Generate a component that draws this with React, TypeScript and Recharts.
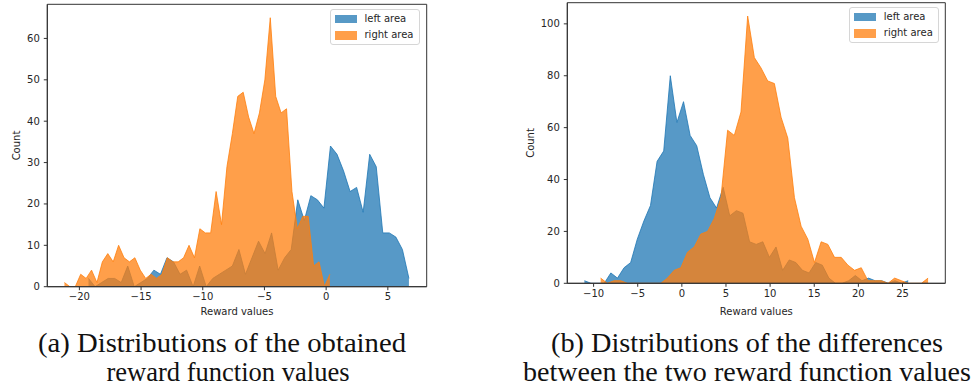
import {AreaChart, Area, XAxis, YAxis, ReferenceArea} from "recharts";

// histogram counts, one value per bin
const leftBlueCounts = [
  2, 0, 1, 2, 2, 1, 5, 0, 1, 2, 4, 3, 7, 6, 3, 4, 0, 5, 0, 2, 3, 4, 5, 9, 3,
  7, 11, 8, 13, 4, 7, 9, 21, 16, 22, 21, 19, 34, 32, 28, 23, 24, 18, 32, 29, 13, 13, 12, 9, 2,
];
const leftOrangeCounts = [
  1, 0, 0, 3, 2, 4, 1, 6, 8, 6, 10, 7, 6, 7, 4, 2, 3, 2, 3, 7, 6, 6, 7, 10, 7,
  14, 13, 13, 23, 15, 29, 37, 46, 47, 41, 37, 42, 50, 65, 46, 42, 43, 23, 14, 17, 17, 5, 6, 0, 3,
];
const rightBlueCounts = [
  1, 0, 0, 0, 4, 2, 6, 8, 17, 24, 30, 47, 51, 80, 62, 70, 57, 53, 42, 33, 29, 37, 26, 28, 27,
  16, 15, 16, 10, 14, 5, 9, 8, 5, 4, 8, 7, 2, 0, 0, 1, 3, 1, 2, 1, 1, 0, 1, 0, 1,
];
const rightOrangeCounts = [
  2, 0, 1, 1, 0, 0, 0, 0, 0, 0, 2, 5, 6, 12, 14, 19, 20, 25, 33, 59, 57, 66, 103, 87, 83,
  78, 77, 64, 56, 33, 22, 17, 8, 16, 15, 10, 10, 7, 5, 6, 1, 1, 1, 0, 2, 1, 0, 0, 0, 2,
];

// first bin centre and bin width of each histogram (50 bins each)
const leftBlueBins = [-19.26, 0.53];
const leftOrangeBins = [-21.21, 0.439];
const rightBlueBins = [-11.04, 0.7486];
const rightOrangeBins = [-9.2, 0.7571];

const leftXTicks = [-20, -15, -10, -5, 0, 5];
const leftYTicks = [0, 10, 20, 30, 40, 50, 60];
const rightXTicks = [-10, -5, 0, 5, 10, 15, 20, 25];
const rightYTicks = [0, 20, 40, 60, 80, 100];

const seriesNames = ["left area", "right area"];
const BLUE = "#1f77b4";
const ORANGE = "#ff7f0e";
const INK = "#262626";

const toBins = (counts: number[], bins: number[]) =>
  counts.map((c, i) => ({x: +(bins[0] + i * bins[1]).toFixed(4), count: c}));

const fmt = (v: number) => String(v).replace("-", "\u2212");

type PanelProps = {
  left: number;
  width: number;
  margin: {top: number; right: number; bottom: number; left: number};
  blue: {x: number; count: number}[];
  orange: {x: number; count: number}[];
  xDomain: [number, number];
  yMax: number;
  xTicks: number[];
  yTicks: number[];
  xLabelOffset: number;
  yLabelOffset: number;
};

function Panel(p: PanelProps) {
  const {left, width, margin, blue, orange, xDomain, yMax, xTicks, yTicks} = p;
  return (
    <div style={{position: "absolute", left, top: 0}}>
      <AreaChart width={width} height={320} margin={margin}>
        <XAxis
          type="number"
          dataKey="x"
          domain={xDomain}
          allowDataOverflow
          ticks={xTicks}
          tickFormatter={fmt}
          height={30}
          tickSize={3.5}
          tickMargin={3}
          stroke="#333"
          tick={{fill: INK, fontSize: 10}}
          label={{value: "Reward values", position: "insideBottom", offset: p.xLabelOffset, fontSize: 10, fill: INK}}
        />
        <YAxis
          type="number"
          domain={[0, yMax]}
          allowDataOverflow
          ticks={yTicks}
          width={40}
          tickSize={3.5}
          tickMargin={4}
          stroke="#333"
          tick={{fill: INK, fontSize: 10}}
          label={{
            value: "Count",
            angle: -90,
            position: "insideLeft",
            offset: p.yLabelOffset,
            fontSize: 10,
            fill: INK,
            style: {textAnchor: "middle"},
          }}
        />
        <Area
          data={blue}
          dataKey="count"
          type="linear"
          fill={BLUE}
          fillOpacity={0.75}
          stroke={BLUE}
          strokeOpacity={0.8}
          strokeWidth={1}
          isAnimationActive={false}
        />
        <Area
          data={orange}
          dataKey="count"
          type="linear"
          fill={ORANGE}
          fillOpacity={0.75}
          stroke={ORANGE}
          strokeOpacity={0.8}
          strokeWidth={1}
          isAnimationActive={false}
        />
        <ReferenceArea
          x1={xDomain[0]}
          x2={xDomain[1]}
          y1={0}
          y2={yMax}
          fill="none"
          stroke="#333"
          strokeWidth={1}
        />
      </AreaChart>
    </div>
  );
}

function LegendBox({left, top}: {left: number; top: number}) {
  const colors = [BLUE, ORANGE];
  return (
    <div
      style={{
        position: "absolute",
        left,
        top,
        width: 90,
        height: 36,
        boxSizing: "border-box",
        border: "1px solid #d6d6d6",
        borderRadius: 3,
        background: "rgba(255,255,255,0.8)",
        fontSize: 10,
        color: INK,
      }}
    >
      {seriesNames.map((name, i) => (
        <div key={name} style={{position: "absolute", left: 3.5, top: 3.5 + i * 16.5, height: 10, display: "flex", alignItems: "center"}}>
          <span
            style={{
              display: "inline-block",
              width: 22,
              height: 8.5,
              boxSizing: "border-box",
              background: colors[i],
              opacity: 0.75,
              border: `1px solid ${colors[i]}`,
            }}
          />
          <span style={{marginLeft: 8, lineHeight: "10px"}}>{name}</span>
        </div>
      ))}
    </div>
  );
}

export default function App() {
  return (
    <div
      style={{
        position: "absolute",
        left: 0,
        top: 0,
        width: 980,
        height: 391,
        background: "#fff",
        fontFamily: "'DejaVu Sans', sans-serif",
      }}
    >
      <Panel
        left={0}
        width={440}
        margin={{top: 4.3, right: 13.3, bottom: 3.3, left: 7.3}}
        blue={toBins(leftBlueCounts, leftBlueBins)}
        orange={toBins(leftOrangeCounts, leftOrangeBins)}
        xDomain={[-22.6, 8.15]}
        yMax={68.25}
        xTicks={leftXTicks}
        yTicks={leftYTicks}
        xLabelOffset={2}
        yLabelOffset={9}
      />
      <Panel
        left={520}
        width={460}
        margin={{top: 2.7, right: 34.7, bottom: 6.7, left: 7.3}}
        blue={toBins(rightBlueCounts, rightBlueBins)}
        orange={toBins(rightOrangeCounts, rightOrangeBins)}
        xDomain={[-12.98, 29.85]}
        yMax={108.15}
        xTicks={rightXTicks}
        yTicks={rightYTicks}
        xLabelOffset={-2}
        yLabelOffset={3}
      />
      <LegendBox left={330} top={9.3} />
      <LegendBox left={849.3} top={7.3} />
      <svg
        width={980}
        height={391}
        style={{position: "absolute", left: 0, top: 0, pointerEvents: "none"}}
        fontFamily="'Liberation Serif', serif"
        fontSize={27}
        fill="#111"
      >
        <text x={222} y={352} textAnchor="middle" textLength={368} lengthAdjust="spacingAndGlyphs">
          (a) Distributions of the obtained
        </text>
        <text x={228} y={381} textAnchor="middle" textLength={243} lengthAdjust="spacingAndGlyphs">
          reward function values
        </text>
        <text x={747} y={352} textAnchor="middle" textLength={392} lengthAdjust="spacingAndGlyphs">
          (b) Distributions of the differences
        </text>
        <text x={747} y={381} textAnchor="middle" textLength={448} lengthAdjust="spacingAndGlyphs">
          between the two reward function values
        </text>
      </svg>
    </div>
  );
}
